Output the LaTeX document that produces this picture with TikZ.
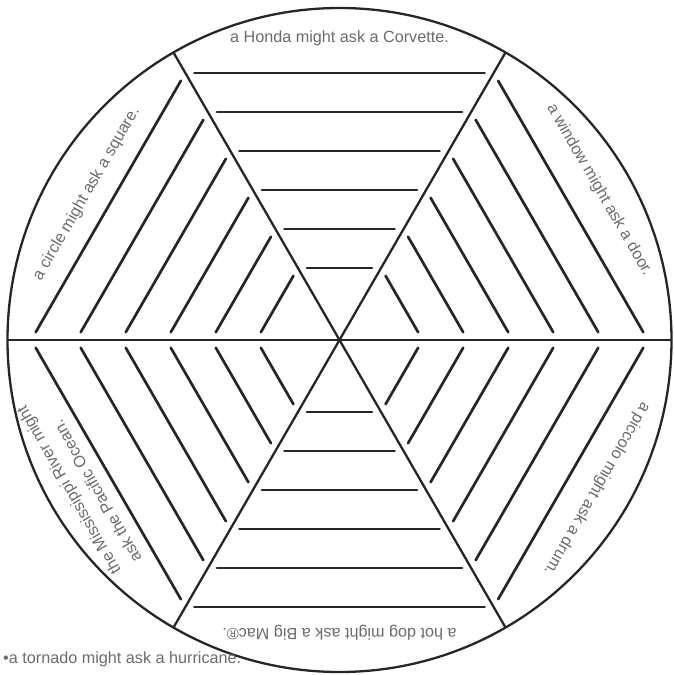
\documentclass[tikz,border=0pt]{standalone}
\usepackage{fontspec}
\setmainfont{Liberation Sans}

\begin{document}
\begin{tikzpicture}[
    x=1pt,y=1pt,
    rim/.style={draw=black!85,line width=2.3pt},
    spoke/.style={draw=black!85,line width=2.3pt},
    rung/.style={draw=black!85,line width=2.7pt,line cap=round},
    caption/.style={text=black!58,inner sep=0pt,
      font=\fontsize{16.2}{19}\selectfont}
]
\useasboundingbox (-339.5,-335) rectangle (333.5,340);

\coordinate (hub) at (0,0);
\draw[rim] (hub) circle (332);
\foreach \a in {0,60,120}
  \draw[spoke] (\a:332) -- (hub) -- (\a+180:332);

% writing lines, six per wedge
\foreach \r in {0,60,...,300}
  \foreach \d in {72,111,...,267}
    \draw[rung,rotate=\r] ({-(\d*0.5774-9)},\d) -- ({\d*0.5774-9},\d);

\node[caption]            (honda)   at (90:302)  {a Honda might ask a Corvette.};
\node[caption,rotate=60]  (square)  at (150:292) {a circle might ask a square.};
\node[caption,rotate=-60] (window)  at (30:300)  {a window might ask a door.};
\node[caption,rotate=-120](piccolo) at (-30:297) {a piccolo might ask a drum.};
\node[caption,rotate=180] (hotdog)  at (-90:293) {a hot dog might ask a Big Mac®.};
\node[caption,rotate=120,align=left] (river) at (209:298)
      {the Mississippi River might\\[5pt]ask the Pacific Ocean.};

\node[caption,anchor=west] (tornado) at (-336.5,-319) {•a tornado might ask a hurricane.};
\end{tikzpicture}
\end{document}
